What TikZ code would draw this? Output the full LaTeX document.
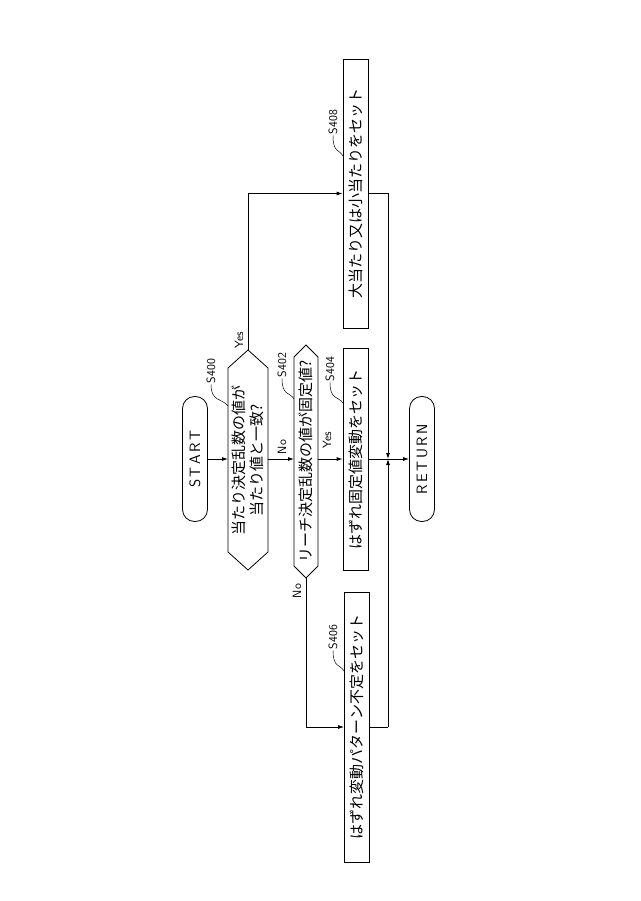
\documentclass[tikz,border=0pt]{standalone}
\usepackage{fontspec}
\setmainfont{Noto Sans CJK JP}
\usetikzlibrary{arrows.meta}
\begin{document}
\begin{tikzpicture}[x=1pt,y=-1pt,line width=0.8pt,
  box/.style={draw,rectangle,inner sep=0pt,font=\fontsize{15}{18}\selectfont},
  lab/.style={font=\fontsize{12}{14}\selectfont\sffamily,rotate=90,inner sep=1pt},
  txt/.style={font=\fontsize{15}{18}\selectfont,rotate=90,align=center},
  lead/.style={line width=0.5pt},
  arr/.style={-{Latex[length=6pt,width=4pt]}}]
\useasboundingbox (0,0) rectangle (640,901);
% START / RETURN
\node[draw,rounded corners=12pt,minimum width=125pt,minimum height=25pt,rotate=90,font=\fontsize{15}{18}\selectfont\sffamily] (start) at (195,459) {S\,T\,A\,R\,T};
\node[draw,rounded corners=12pt,minimum width=125pt,minimum height=25pt,rotate=90,font=\fontsize{15}{18}\selectfont\sffamily] (ret) at (422,459) {R\,E\,T\,U\,R\,N};
% S400 hexagon
\draw (248,350) -- (268,368) -- (268,552) -- (248,570) -- (228,552) -- (228,368) -- cycle;
\coordinate (d1t) at (248,350); \coordinate (d1l) at (228,459); \coordinate (d1r) at (268,459);
\node[txt,inner sep=0pt] (d1) at (248,460) {当たり決定乱数の値が\\当たり値と一致?};
% S402 hexagon
\draw (306,345) -- (318,357) -- (318,566) -- (306,578) -- (294,566) -- (294,357) -- cycle;
\coordinate (d2b) at (306,578); \coordinate (d2l) at (294,459); \coordinate (d2r) at (318,459);
\node[txt,inner sep=0pt] (d2) at (306,461) {リーチ決定乱数の値が固定値?};
% boxes
\node[box,rotate=90,minimum width=222pt,minimum height=25pt] (s404) at (355.5,459) {はずれ固定値変動をセット};
\node[box,rotate=90,minimum width=270pt,minimum height=25pt] (s406) at (357,727) {はずれ変動パターン不定をセット};
\node[box,rotate=90,minimum width=269pt,minimum height=25pt] (s408) at (355.5,193.5) {大当たり又は小当たりをセット};
% step labels
\node[lab] (l400) at (211,371) {S400};
\node[lab] (l402) at (282,365) {S402};
\node[lab] (l404) at (330,369) {S404};
\node[lab] (l406) at (333,637) {S406};
\node[lab] (l408) at (333,122) {S408};
\draw[lead] (l400.west) .. controls (211,402) and (222,398) .. (228,406);
\draw[lead] (l402.west) .. controls (282,396) and (290,392) .. (294,399);
\draw[lead] (l404.west) .. controls (330,400) and (338,396) .. (343,403);
\draw[lead] (l406.west) .. controls (333,668) and (340,664) .. (344,671);
\draw[lead] (l408.west) .. controls (333,153) and (339,149) .. (343,156);
% branch labels
\node[lab] (y1) at (239,340) {Yes};
\node[lab] (n1) at (282,447) {No};
\node[lab] (y2) at (327,440) {Yes};
\node[lab] (n2) at (297,591) {No};
% connectors
\coordinate (m) at (388,459);
\coordinate (mt) at (388,193.5);
\coordinate (mb) at (388,727);
\draw[arr] (start.south) -- (d1l);
\draw[arr] (d1r) -- (d2l);
\draw[arr] (d2r) -- (s404.north);
\draw[arr] (d1t) |- (s408.north);
\draw[arr] (d2b) |- (s406.north);
\draw (s408.south) -- (mt);
\draw (s406.south) -- (mb);
\draw[arr] (mt) -- (m);
\draw[arr] (mb) -- (m);
\draw[arr] (s404.south) -- (ret.north);
\end{tikzpicture}
\end{document}
